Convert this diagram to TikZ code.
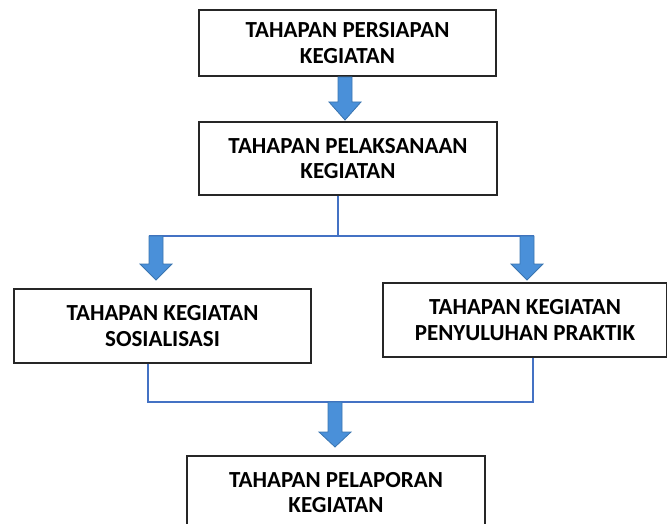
\documentclass[tikz,border=0pt]{standalone}
\usepackage{fontspec}
\setmainfont{Carlito}
\usetikzlibrary{calc,positioning}
\definecolor{arrowblue}{RGB}{74,144,217}
\definecolor{arrowedge}{RGB}{58,117,176}
\definecolor{lineblue}{RGB}{68,114,196}
\tikzstyle{stage}=[rectangle,draw=black!85,line width=1.2pt,fill=white,align=center,inner sep=0pt,font=\fontsize{23}{25.5}\selectfont\bfseries]
\tikzstyle{blockarrow}=[fill=arrowblue,draw=arrowedge,line width=0.8pt,line join=miter]
\tikzstyle{branch}=[draw=lineblue,line width=1.6pt]
% #1 top of shaft, #2 tip, #3 head length
\newcommand{\downblock}[3]{%
  \filldraw[blockarrow] ($(#1)+(-7,0)$) -- ($(#1)+(7,0)$) -- ($(#2)+(7,-#3)$) -- ($(#2)+(16,-#3)$) -- (#2) -- ($(#2)+(-16,-#3)$) -- ($(#2)+(-7,-#3)$) -- cycle;
}

\begin{document}
\begin{tikzpicture}[x=1pt,y=-1pt]
	\clip (0,0) rectangle (667,524);
%--------------------start stage boxes --------------------
	\node[stage,minimum width=297pt,minimum height=66pt] (persiapan) at (347.5,43) {TAHAPAN PERSIAPAN\\KEGIATAN};
	\node[stage,minimum width=298pt,minimum height=73pt] (pelaksanaan) at (348,158.5) {TAHAPAN PELAKSANAAN\\KEGIATAN};
	\node[stage,minimum width=297pt,minimum height=74pt] (sosialisasi) at (162.5,326) {TAHAPAN KEGIATAN\\SOSIALISASI};
	\node[stage,minimum width=284pt,minimum height=74pt] (penyuluhan) at (525,320) {TAHAPAN KEGIATAN\\PENYULUHAN PRAKTIK};
	\node[stage,minimum width=298pt,minimum height=73pt] (pelaporan) at (336,492.5) {TAHAPAN PELAPORAN\\KEGIATAN};
%--------------------end stage boxes ----------------------

	%Persiapan to pelaksanaan
	\coordinate (topA) at (345,77);
	\coordinate (tipA) at (345,120);
	\downblock{topA}{tipA}{18}

	%Split line
	\coordinate (split) at (338,236);
	\coordinate (splitL) at (149,236);
	\coordinate (splitR) at (534,236);
	\draw[branch] (pelaksanaan.south -| split) -- (split);
	\draw[branch] (splitL) -- (splitR);

	\coordinate (topL) at (156,236);
	\coordinate (tipL) at (156,280);
	\downblock{topL}{tipL}{16}

	\coordinate (topR) at (527,236);
	\coordinate (tipR) at (527,280);
	\downblock{topR}{tipR}{16}

	%Join line
	\coordinate (joinL) at (148,402);
	\coordinate (joinR) at (533,402);
	\draw[branch] (sosialisasi.south -| joinL) -- (joinL) -- (joinR) -- (penyuluhan.south -| joinR);

	\coordinate (topB) at (335,402);
	\coordinate (tipB) at (335,447);
	\downblock{topB}{tipB}{15}
\end{tikzpicture}
\end{document}
